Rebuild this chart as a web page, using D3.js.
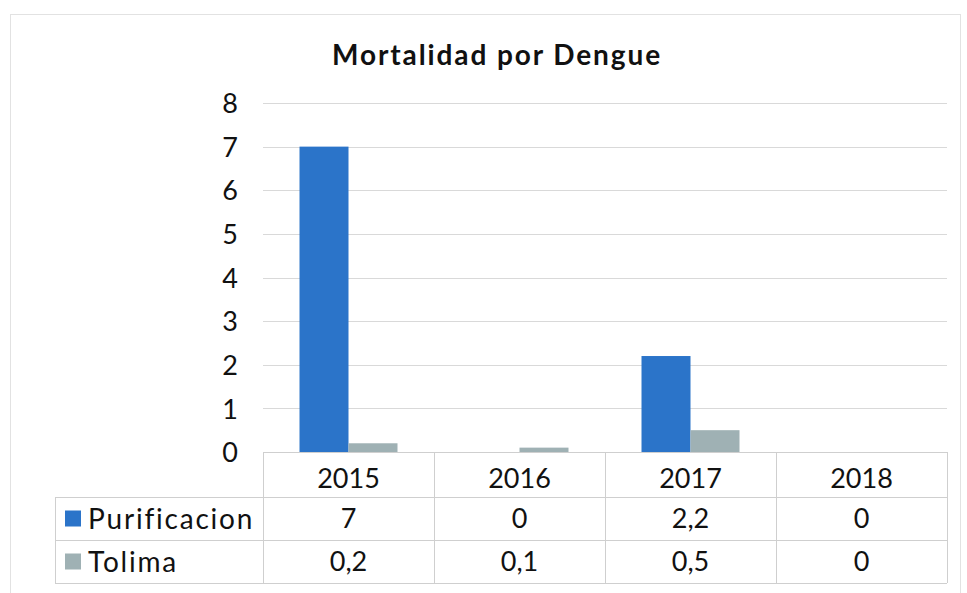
<!DOCTYPE html>
<html><head><meta charset="utf-8">
<script src="https://cdn.jsdelivr.net/npm/d3@7"></script>
<style>
html,body{margin:0;padding:0;background:#fff;}
text{font-family:"Century Gothic","URW Gothic",Lato,"Open Sans",sans-serif;fill:#111;}
</style></head>
<body>
<svg id="chart" width="967" height="593"></svg>
<script>
const title = "Mortalidad por Dengue";
const years = ["2015", "2016", "2017", "2018"];
const seriesNames = ["Purificacion", "Tolima"];
const purificacion = [7, 0, 2.2, 0];
const tolima = [0.2, 0.1, 0.5, 0];
const purificacionLabels = ["7", "0", "2,2", "0"];
const tolimaLabels = ["0,2", "0,1", "0,5", "0"];
const yTicks = [0, 1, 2, 3, 4, 5, 6, 7, 8];
const colors = ["#2b74c9", "#9fb1b4"];

(function () {
const seriesValues = [purificacion, tolima];
const seriesLabels = [purificacionLabels, tolimaLabels];

const svg = d3.select("#chart");
const plotLeft = 263, plotRight = 947, plotTop = 103, base = 452;
const tableLeft = 55;
const rowY = [452, 497, 540, 583];

svg.append("rect").attr("x", 10.5).attr("y", 14.5).attr("width", 950).attr("height", 590)
  .attr("fill", "#fff").attr("stroke", "#e2e2e2");

const x = d3.scaleBand().domain(years).range([plotLeft, plotRight]).padding(0);
const x1 = d3.scaleBand().domain(seriesNames).range([0, x.bandwidth()]).paddingInner(0).paddingOuter(0.745);
const y = d3.scaleLinear().domain([0, 8]).range([base, plotTop]);

// title
svg.append("text").attr("x", 497).attr("y", 65).attr("text-anchor", "middle")
  .style("font-weight", "bold").style("font-size", "28px").style("letter-spacing", "1.9px").text(title);

// gridlines
svg.append("g").selectAll("line").data(yTicks.filter(d => d > 0)).join("line")
  .attr("x1", plotLeft).attr("x2", plotRight)
  .attr("y1", d => Math.round(y(d)) + 0.5).attr("y2", d => Math.round(y(d)) + 0.5)
  .attr("stroke", "#d9d9d9").attr("stroke-width", 1);

// y axis
const yAxis = d3.axisLeft(y).tickValues(yTicks).tickSize(0).tickPadding(0).tickFormat(d3.format("d"));
const gy = svg.append("g").attr("transform", `translate(238,0)`).call(yAxis);
gy.select(".domain").remove();
gy.attr("font-family", null).attr("font-size", null);
gy.selectAll("text").style("font-size", "27px").attr("fill", "#111").attr("dy", "0.36em");

// bars
const groups = svg.append("g").selectAll("g").data(years).join("g")
  .attr("transform", d => `translate(${x(d)},0)`);
groups.selectAll("rect").data((d, i) => seriesNames.map((s, k) => ({s, k, v: seriesValues[k][i]})))
  .join("rect")
  .attr("x", d => x1(d.s)).attr("width", x1.bandwidth())
  .attr("y", d => y(d.v)).attr("height", d => base - y(d.v))
  .attr("fill", d => colors[d.k]);

// data table
const tg = svg.append("g").attr("stroke", "#cfcfcf").attr("stroke-width", 1);
tg.append("line").attr("x1", plotLeft).attr("x2", plotRight).attr("y1", base + 0.5).attr("y2", base + 0.5);
[1, 2, 3].forEach(r => tg.append("line").attr("x1", tableLeft).attr("x2", plotRight)
  .attr("y1", rowY[r] + 0.5).attr("y2", rowY[r] + 0.5));
const colEdges = years.map(d => x(d)).concat([plotRight]);
colEdges.forEach(cx => tg.append("line").attr("x1", Math.round(cx) + 0.5).attr("x2", Math.round(cx) + 0.5)
  .attr("y1", base).attr("y2", rowY[3]));
tg.append("line").attr("x1", tableLeft + 0.5).attr("x2", tableLeft + 0.5).attr("y1", rowY[1]).attr("y2", rowY[3]);

// header years
svg.append("g").selectAll("text").data(years).join("text")
  .attr("x", d => x(d) + x.bandwidth() / 2).attr("y", (rowY[0] + rowY[1]) / 2 + 4)
  .attr("dy", "0.36em").attr("text-anchor", "middle").style("font-size", "27px").text(d => d);

// rows
seriesNames.forEach((s, k) => {
  const cy = (rowY[k + 1] + rowY[k + 2]) / 2;
  svg.append("rect").attr("x", 65).attr("y", cy - 8).attr("width", 16).attr("height", 16).attr("fill", colors[k]);
  svg.append("text").attr("x", 88).attr("y", cy).attr("dy", "0.36em").style("font-size", "28px")
    .style("letter-spacing", "1.8px").text(s);
  svg.append("g").selectAll("text").data(seriesLabels[k]).join("text")
    .attr("x", (d, i) => x(years[i]) + x.bandwidth() / 2).attr("y", cy)
    .attr("dy", "0.36em").attr("text-anchor", "middle").style("font-size", "27px").text(d => d);
});
})();
</script>
</body></html>
